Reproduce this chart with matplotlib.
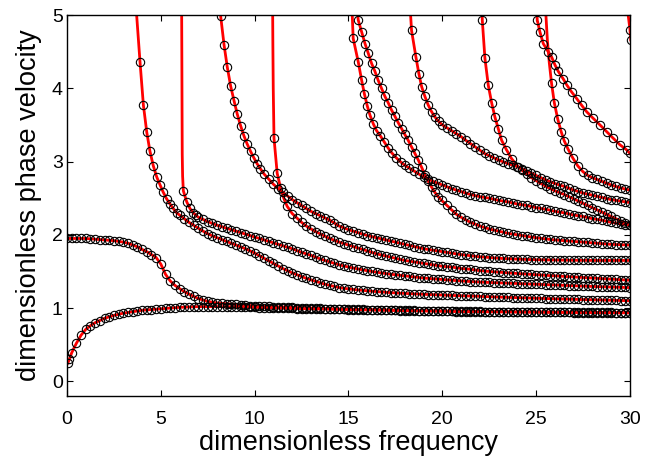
import matplotlib
matplotlib.use("Agg")
import matplotlib.pyplot as plt

# ---------- data ----------
# frequency grid used for the slowly varying part of every branch
FREQ = [0.0, 0.25, 0.5, 0.75, 1.0, 1.25, 1.5, 1.75, 2.0, 2.25, 2.5, 2.75, 3.0, 3.25, 3.5,
        3.75, 4.0, 4.25, 4.5, 4.75, 5.0, 5.25, 5.5, 5.75, 6.0, 6.25, 6.5, 6.75, 7.0, 7.25,
        7.5, 7.75, 8.0, 8.25, 8.5, 8.75, 9.0, 9.25, 9.5, 9.75, 10.0, 10.25, 10.5, 10.75,
        11.0, 11.25, 11.5, 11.75, 12.0, 12.25, 12.5, 12.75, 13.0, 13.25, 13.5, 13.75, 14.0,
        14.25, 14.5, 14.75, 15.0, 15.25, 15.5, 15.75, 16.0, 16.25, 16.5, 16.75, 17.0, 17.25,
        17.5, 17.75, 18.0, 18.25, 18.5, 18.75, 19.0, 19.25, 19.5, 19.75, 20.0, 20.25, 20.5,
        20.75, 21.0, 21.25, 21.5, 21.75, 22.0, 22.25, 22.5, 22.75, 23.0, 23.25, 23.5, 23.75,
        24.0, 24.25, 24.5, 24.75, 25.0, 25.25, 25.5, 25.75, 26.0, 26.25, 26.5, 26.75, 27.0,
        27.25, 27.5, 27.75, 28.0, 28.25, 28.5, 28.75, 29.0, 29.25, 29.5, 29.75, 30.0]

# per branch:
#   *_TOP  : line-only points where the branch leaves the top of the frame
#   *_HEAD : circles on the steep part (frequency, velocity)
#   *_TAIL : velocities on FREQ, starting at *_START

A0_TOP_F, A0_TOP_C = [], []
A0_HEAD_F = [0.05, 0.12]
A0_HEAD_C = [0.25, 0.30]
A0_START = 0.25
A0_TAIL = [0.39, 0.52, 0.63, 0.71, 0.76, 0.80, 0.83, 0.86,
           0.88, 0.90, 0.915, 0.93, 0.94, 0.95, 0.96, 0.97,
           0.975, 0.98, 0.985, 0.99, 0.995, 1.0, 1.005, 1.01,
           1.012, 1.015, 1.018, 1.02, 1.02, 1.02, 1.02, 1.02,
           1.019, 1.018, 1.016, 1.015, 1.013, 1.012, 1.011, 1.01,
           1.007, 1.005, 1.002, 1.0, 0.999, 0.998, 0.996, 0.995,
           0.993, 0.992, 0.991, 0.99, 0.988, 0.987, 0.986, 0.985,
           0.983, 0.982, 0.981, 0.98, 0.978, 0.977, 0.976, 0.975,
           0.973, 0.972, 0.971, 0.97, 0.968, 0.967, 0.966, 0.965,
           0.963, 0.962, 0.961, 0.96, 0.959, 0.958, 0.957, 0.956,
           0.955, 0.954, 0.953, 0.952, 0.951, 0.95, 0.95, 0.949,
           0.949, 0.948, 0.948, 0.947, 0.947, 0.946, 0.946, 0.945,
           0.945, 0.944, 0.944, 0.943, 0.943, 0.942, 0.942, 0.941,
           0.941, 0.94, 0.94, 0.939, 0.939, 0.938, 0.938, 0.937,
           0.937, 0.936, 0.936, 0.936, 0.935, 0.935, 0.935, 0.935]

S0_TOP_F, S0_TOP_C = [], []
S0_HEAD_F, S0_HEAD_C = [], []
S0_START = 0.0
S0_TAIL = [1.95,
           1.95, 1.95, 1.95, 1.95, 1.945, 1.94, 1.935, 1.93,
           1.925, 1.92, 1.91, 1.90, 1.885, 1.86, 1.835, 1.80,
           1.77, 1.73, 1.69, 1.60, 1.46, 1.37, 1.31, 1.265,
           1.225, 1.19, 1.16, 1.13, 1.11, 1.09, 1.08, 1.07,
           1.065, 1.06, 1.055, 1.05, 1.045, 1.04, 1.035, 1.03,
           1.027, 1.025, 1.022, 1.02, 1.017, 1.015, 1.012, 1.01,
           1.007, 1.005, 1.002, 1.0, 0.998, 0.996, 0.994, 0.992,
           0.99, 0.988, 0.987, 0.985, 0.984, 0.983, 0.981, 0.98,
           0.979, 0.977, 0.976, 0.975, 0.973, 0.972, 0.971, 0.97,
           0.968, 0.967, 0.966, 0.965, 0.964, 0.963, 0.962, 0.961,
           0.96, 0.959, 0.958, 0.957, 0.956, 0.955, 0.955, 0.954,
           0.953, 0.953, 0.952, 0.951, 0.951, 0.95, 0.95, 0.949,
           0.949, 0.948, 0.948, 0.947, 0.947, 0.946, 0.946, 0.945,
           0.945, 0.944, 0.944, 0.943, 0.943, 0.942, 0.942, 0.941,
           0.941, 0.94, 0.94, 0.94, 0.939, 0.939, 0.938, 0.938]

M1_TOP_F, M1_TOP_C = [3.71], [5.0]
M1_HEAD_F = [3.89, 4.07, 4.25, 4.42, 4.6, 4.78, 4.96, 5.13, 5.31, 5.49, 5.66, 5.84]
M1_HEAD_C = [4.36, 3.77, 3.40, 3.14, 2.94, 2.79, 2.68, 2.58, 2.49, 2.42, 2.36, 2.30]
M1_START = 6.0
M1_TAIL = [2.27,
           2.22, 2.17, 2.13, 2.09, 2.05, 2.015, 1.985, 1.96,
           1.935, 1.91, 1.885, 1.86, 1.835, 1.81, 1.78, 1.75,
           1.715, 1.68, 1.645, 1.61, 1.575, 1.54, 1.51, 1.48,
           1.455, 1.43, 1.405, 1.385, 1.365, 1.345, 1.325, 1.31,
           1.295, 1.28, 1.27, 1.262, 1.255, 1.248, 1.242, 1.236,
           1.23, 1.225, 1.22, 1.215, 1.211, 1.207, 1.203, 1.20,
           1.197, 1.194, 1.191, 1.188, 1.185, 1.183, 1.18, 1.178,
           1.175, 1.173, 1.17, 1.168, 1.166, 1.164, 1.162, 1.16,
           1.157, 1.155, 1.152, 1.15, 1.148, 1.146, 1.144, 1.142,
           1.14, 1.138, 1.136, 1.134, 1.132, 1.13, 1.128, 1.126,
           1.124, 1.123, 1.121, 1.12, 1.118, 1.116, 1.115, 1.113,
           1.111, 1.11, 1.108, 1.106, 1.105, 1.103, 1.102, 1.10]

M2_TOP_F = [6.11, 6.12, 6.13, 6.14, 6.16]
M2_TOP_C = [5.0, 4.4, 3.7, 3.1, 2.8]
M2_HEAD_F = [6.2, 6.38, 6.55, 6.73, 6.88]
M2_HEAD_C = [2.60, 2.45, 2.36, 2.30, 2.265]
M2_START = 7.0
M2_TAIL = [2.24, 2.21, 2.18, 2.155, 2.13,
           2.11, 2.09, 2.07, 2.05, 2.03, 2.01, 1.99, 1.97,
           1.95, 1.93, 1.91, 1.89, 1.87, 1.85, 1.83, 1.81,
           1.785, 1.76, 1.74, 1.72, 1.695, 1.67, 1.65, 1.63,
           1.61, 1.59, 1.575, 1.56, 1.547, 1.535, 1.522, 1.51,
           1.50, 1.49, 1.48, 1.47, 1.462, 1.455, 1.447, 1.44,
           1.432, 1.425, 1.417, 1.41, 1.405, 1.40, 1.395, 1.39,
           1.385, 1.38, 1.375, 1.37, 1.366, 1.362, 1.358, 1.355,
           1.352, 1.35, 1.347, 1.345, 1.342, 1.34, 1.337, 1.335,
           1.332, 1.33, 1.327, 1.325, 1.322, 1.32, 1.317, 1.315,
           1.312, 1.31, 1.307, 1.305, 1.302, 1.30, 1.297, 1.295,
           1.293, 1.291, 1.289, 1.287, 1.285, 1.283, 1.281, 1.28]

M3_TOP_F, M3_TOP_C = [8.185], [5.02]
M3_HEAD_F = [8.19, 8.37, 8.54, 8.72, 8.9, 9.07, 9.25, 9.43, 9.6, 9.78, 9.96, 10.13, 10.31]
M3_HEAD_C = [4.98, 4.59, 4.29, 4.03, 3.83, 3.65, 3.49, 3.35, 3.24, 3.14, 3.05, 2.97, 2.90]
M3_START = 10.5
M3_TAIL = [2.83, 2.76, 2.69, 2.63, 2.58, 2.53, 2.48,
           2.44, 2.40, 2.36, 2.32, 2.29, 2.26, 2.23, 2.20,
           2.16, 2.12, 2.095, 2.07, 2.05, 2.03, 2.01, 1.99,
           1.975, 1.96, 1.945, 1.93, 1.915, 1.90, 1.885, 1.87,
           1.855, 1.84, 1.825, 1.81, 1.80, 1.79, 1.78, 1.77,
           1.76, 1.75, 1.74, 1.73, 1.722, 1.715, 1.707, 1.70,
           1.695, 1.69, 1.685, 1.68, 1.677, 1.674, 1.671, 1.668,
           1.666, 1.664, 1.662, 1.66, 1.659, 1.658, 1.657, 1.656,
           1.655, 1.654, 1.653, 1.652, 1.652, 1.651, 1.651, 1.65,
           1.65, 1.65, 1.65, 1.65, 1.65, 1.65, 1.65, 1.65]

M4_TOP_F = [10.96, 10.97, 10.99]
M4_TOP_C = [5.0, 4.6, 4.0]
M4_HEAD_F = [11.03, 11.2, 11.38, 11.55, 11.73]
M4_HEAD_C = [3.32, 2.84, 2.64, 2.50, 2.39]
M4_START = 12.0
M4_TAIL = [2.29,
           2.23, 2.17, 2.12, 2.08, 2.045, 2.01, 1.98, 1.95,
           1.925, 1.90, 1.88, 1.86, 1.84, 1.82, 1.80, 1.78,
           1.76, 1.74, 1.725, 1.71, 1.695, 1.68, 1.665, 1.65,
           1.64, 1.63, 1.62, 1.61, 1.60, 1.59, 1.58, 1.57,
           1.565, 1.56, 1.55, 1.54, 1.535, 1.53, 1.52, 1.51,
           1.505, 1.50, 1.495, 1.49, 1.485, 1.481, 1.476, 1.472,
           1.468, 1.464, 1.46, 1.455, 1.451, 1.447, 1.443, 1.44,
           1.436, 1.432, 1.428, 1.425, 1.421, 1.417, 1.413, 1.41,
           1.406, 1.402, 1.398, 1.395, 1.391, 1.387, 1.383, 1.38]

M5_TOP_F, M5_TOP_C = [15.2], [5.0]
M5_HEAD_F = [15.25, 15.52, 15.7, 15.85, 16.0, 16.15, 16.33, 16.5, 16.7, 16.9, 17.1, 17.3,
             17.55, 17.8]
M5_HEAD_C = [4.68, 4.36, 4.11, 3.92, 3.76, 3.63, 3.51, 3.42, 3.35, 3.27, 3.19, 3.12,
             3.05, 2.99]
M5_START = 18.0
M5_TAIL = [2.95,
           2.91, 2.87, 2.83, 2.79, 2.76, 2.73, 2.705, 2.68,
           2.655, 2.63, 2.61, 2.59, 2.57, 2.55, 2.535, 2.52,
           2.51, 2.50, 2.485, 2.47, 2.46, 2.45, 2.435, 2.42,
           2.41, 2.40, 2.385, 2.37, 2.36, 2.35, 2.335, 2.32,
           2.31, 2.30, 2.285, 2.27, 2.26, 2.25, 2.235, 2.22,
           2.21, 2.20, 2.185, 2.17, 2.16, 2.15, 2.14, 2.13]

M6_TOP_F, M6_TOP_C = [15.49], [5.0]
M6_HEAD_F = [15.52, 15.7, 15.88, 16.05, 16.23, 16.41, 16.58, 16.76, 16.94, 17.12, 17.3,
             17.47, 17.65, 17.83, 18.0, 18.18, 18.36, 18.54, 18.72, 18.9, 19.07, 19.25,
             19.43, 19.6, 19.78, 19.96]
M6_HEAD_C = [4.93, 4.77, 4.61, 4.48, 4.34, 4.23, 4.11, 4.00, 3.89, 3.80, 3.70,
             3.62, 3.53, 3.45, 3.37, 3.29, 3.20, 3.11, 3.02, 2.92, 2.82, 2.73,
             2.65, 2.58, 2.52, 2.47]
M6_START = 20.25
M6_TAIL = [2.40, 2.34, 2.28, 2.24, 2.205, 2.17, 2.145, 2.12,
           2.10, 2.08, 2.065, 2.05, 2.035, 2.02, 2.01, 2.0,
           1.99, 1.98, 1.97, 1.96, 1.952, 1.945, 1.937, 1.93,
           1.925, 1.92, 1.915, 1.91, 1.905, 1.90, 1.895, 1.89,
           1.885, 1.88, 1.875, 1.87, 1.867, 1.865, 1.862, 1.86]

M7_TOP_F, M7_TOP_C = [18.31], [5.0]
M7_HEAD_F = [18.36, 18.59, 18.75, 18.9, 19.07, 19.25, 19.43, 19.6, 19.8, 20.0]
M7_HEAD_C = [4.79, 4.43, 4.20, 4.02, 3.89, 3.77, 3.68, 3.61, 3.55, 3.50]
M7_START = 20.25
M7_TAIL = [3.46, 3.42, 3.38, 3.34, 3.29, 3.245, 3.20, 3.155,
           3.11, 3.08, 3.05, 3.02, 2.995, 2.97, 2.95, 2.93,
           2.90, 2.87, 2.84, 2.81, 2.78, 2.75, 2.725, 2.70,
           2.68, 2.66, 2.635, 2.61, 2.59, 2.57, 2.555, 2.54,
           2.525, 2.51, 2.495, 2.48, 2.47, 2.46, 2.45, 2.44]

M8_TOP_F, M8_TOP_C = [22.12], [5.02]
M8_HEAD_F = [22.13, 22.27, 22.45, 22.63, 22.8, 22.98, 23.16, 23.42, 23.69, 24.04]
M8_HEAD_C = [4.93, 4.41, 4.04, 3.80, 3.61, 3.45, 3.29, 3.16, 3.04, 2.93]
M8_START = 24.25
M8_TAIL = [2.88, 2.83, 2.78, 2.74, 2.70, 2.665, 2.63, 2.60,
           2.575, 2.55, 2.52, 2.49, 2.46, 2.43, 2.40, 2.37,
           2.34, 2.31, 2.28, 2.25, 2.22, 2.19, 2.16, 2.13]

M9_TOP_F, M9_TOP_C = [25.04], [5.02]
M9_HEAD_F = [25.06, 25.2, 25.38, 25.64, 25.82, 26.0, 26.18, 26.44, 26.62, 26.89, 27.16,
             27.42, 27.69, 28.04, 28.4, 28.75, 29.1, 29.46, 29.82, 30.0]
M9_HEAD_C = [4.93, 4.77, 4.61, 4.50, 4.43, 4.32, 4.23, 4.13, 4.05, 3.95, 3.86,
             3.77, 3.68, 3.59, 3.50, 3.41, 3.32, 3.23, 3.16, 3.11]
M9_START = None
M9_TAIL = []

M10_TOP_F = [25.52, 25.6, 25.7]
M10_TOP_C = [5.0, 4.65, 4.35]
M10_HEAD_F = [25.82, 25.97, 26.15, 26.33, 26.5, 26.7, 26.95, 27.22, 27.5, 27.75]
M10_HEAD_C = [4.07, 3.80, 3.58, 3.41, 3.28, 3.17, 3.05, 2.94, 2.86, 2.81]
M10_START = 28.0
M10_TAIL = [2.78,
            2.755, 2.73, 2.705, 2.68, 2.66, 2.64, 2.625, 2.61]

M11_TOP_F, M11_TOP_C = [29.88], [5.05]
M11_HEAD_F = [30.0, 30.04]
M11_HEAD_C = [4.80, 4.66]
M11_START = None
M11_TAIL = []

BRANCHES = [
    (A0_TOP_F, A0_TOP_C, A0_HEAD_F, A0_HEAD_C, A0_START, A0_TAIL),
    (S0_TOP_F, S0_TOP_C, S0_HEAD_F, S0_HEAD_C, S0_START, S0_TAIL),
    (M1_TOP_F, M1_TOP_C, M1_HEAD_F, M1_HEAD_C, M1_START, M1_TAIL),
    (M2_TOP_F, M2_TOP_C, M2_HEAD_F, M2_HEAD_C, M2_START, M2_TAIL),
    (M3_TOP_F, M3_TOP_C, M3_HEAD_F, M3_HEAD_C, M3_START, M3_TAIL),
    (M4_TOP_F, M4_TOP_C, M4_HEAD_F, M4_HEAD_C, M4_START, M4_TAIL),
    (M5_TOP_F, M5_TOP_C, M5_HEAD_F, M5_HEAD_C, M5_START, M5_TAIL),
    (M6_TOP_F, M6_TOP_C, M6_HEAD_F, M6_HEAD_C, M6_START, M6_TAIL),
    (M7_TOP_F, M7_TOP_C, M7_HEAD_F, M7_HEAD_C, M7_START, M7_TAIL),
    (M8_TOP_F, M8_TOP_C, M8_HEAD_F, M8_HEAD_C, M8_START, M8_TAIL),
    (M9_TOP_F, M9_TOP_C, M9_HEAD_F, M9_HEAD_C, M9_START, M9_TAIL),
    (M10_TOP_F, M10_TOP_C, M10_HEAD_F, M10_HEAD_C, M10_START, M10_TAIL),
    (M11_TOP_F, M11_TOP_C, M11_HEAD_F, M11_HEAD_C, M11_START, M11_TAIL),
]

X_TICKS = [0, 5, 10, 15, 20, 25, 30]
Y_TICKS = [0, 1, 2, 3, 4, 5]


def branch_points(start, tail):
    """frequencies on FREQ for the tail values of one branch"""
    if start is None:
        return []
    i = FREQ.index(start)
    return FREQ[i:i + len(tail)]


def main():
    plt.rcParams["font.family"] = ["Liberation Sans", "DejaVu Sans"]

    fig = plt.figure(figsize=(6.45, 4.62), dpi=100)
    ax = fig.add_axes([0.1039, 0.1429, 0.8728, 0.8246])

    circles = []
    for top_f, top_c, head_f, head_c, start, tail in BRANCHES:
        f = head_f + branch_points(start, tail)
        c = head_c + list(tail)
        # exact solution (red line)
        ax.plot(top_f + f, top_c + c, color="#ff0000", lw=2.0, zorder=2)
        circles.append((f, c))

    # numerical solution (open circles) on top
    for f, c in circles:
        ax.plot(f, c, ls="none", marker="o", ms=6, mfc="none", mec="black",
                mew=0.8, zorder=3)

    ax.set_xlim(0, 30)
    ax.set_ylim(-0.2, 5)
    ax.set_xticks(X_TICKS)
    ax.set_yticks(Y_TICKS)
    ax.tick_params(direction="in", top=True, right=True, length=4, labelsize=14)
    ax.tick_params(axis="x", pad=11)
    ax.tick_params(axis="y", pad=3)
    for s in ax.spines.values():
        s.set_linewidth(1.0)

    ax.set_xlabel("dimensionless frequency", fontsize=19.5, labelpad=1)
    ax.set_ylabel("dimensionless phase velocity", fontsize=19.5, labelpad=7)

    fig.savefig("out.png", dpi=100)


if __name__ == "__main__":
    main()
